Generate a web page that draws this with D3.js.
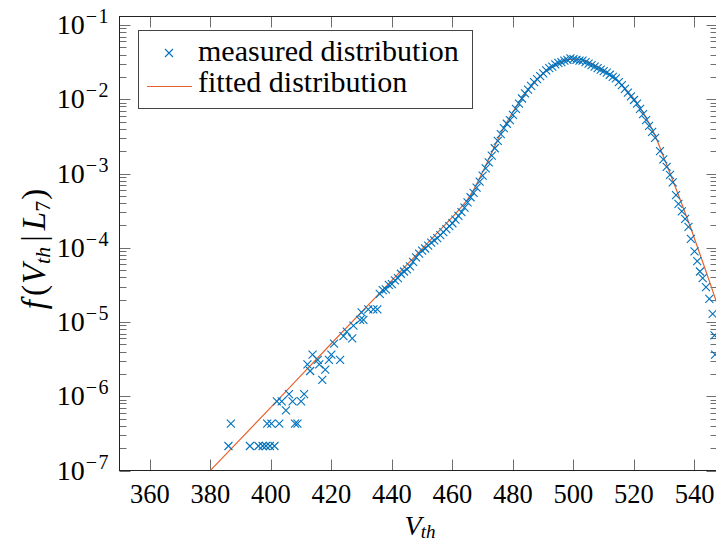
<!DOCTYPE html>
<html><head><meta charset="utf-8">
<script src="https://cdn.jsdelivr.net/npm/d3@7"></script>
<style>
body{margin:0;background:#fff;}
svg{display:block;}
text{font-family:"Liberation Serif","Times New Roman",serif;fill:#000;}
</style>
</head><body>
<svg id="chart" width="716" height="542"></svg>
<script>
// ---------- data ----------
const xTickValues = [360, 380, 400, 420, 440, 460, 480, 500, 520, 540];
const yTickExponents = [-7, -6, -5, -4, -3, -2, -1];
const legendLabels = ["measured distribution", "fitted distribution"];
const xAxisLabel = "V_th";

// measured distribution: V_th and log10 of f (read on the log axis)
const measuredX = [
  386.0, 386.8, 393.1, 395.9, 397.3, 398.4, 399.7, 401.2, 398.8, 400.2,
  402.8, 408.0, 408.8, 405.0, 402.0, 403.6, 407.2, 410.0, 406.0, 411.0,
  417.0, 413.0, 418.0, 412.1, 416.0, 422.9, 413.8, 415.5, 419.2, 420.0,
  420.9, 424.0, 426.9, 425.1, 427.3, 429.5, 430.6, 430.0, 432.2, 433.9,
  435.2,
  436, 437, 438, 439, 440, 441, 442, 443, 444, 445,
  446, 447, 448, 449, 450, 451, 452, 453, 454, 455,
  456, 457, 458, 459, 460, 461, 462, 463, 464, 465,
  466, 467, 468, 469, 470, 471, 472, 473, 474, 475,
  476, 477, 478, 479, 480, 481, 482, 483, 484, 485,
  486, 487, 488, 489, 490, 491, 492, 493, 494, 495,
  496, 497, 498, 499, 500, 501, 502, 503, 504, 505,
  506, 507, 508, 509, 510, 511, 512, 513, 514, 515,
  516, 517, 518, 519, 520, 521, 522, 523, 524, 525,
  526, 527,
  528.6, 529.7, 530.8, 531.9, 532.8, 533.9, 534.7, 535.8, 536.9, 538.0,
  538.8, 540.0, 540.9, 541.8, 542.7, 543.8, 544.9, 546.0, 546.6, 546.8
];
const measuredLog10 = [
  -6.67, -6.37, -6.67, -6.67, -6.67, -6.67, -6.67, -6.67, -6.37, -6.37,
  -6.37, -6.37, -6.37, -6.19, -6.07, -6.07, -6.07, -6.07, -5.97, -5.97,
  -5.78, -5.66, -5.64, -5.57, -5.57, -5.51, -5.44, -5.51, -5.51, -5.44,
  -5.29, -5.19, -5.22, -5.13, -5.05, -4.97, -4.97, -4.87, -4.83, -4.83,
  -4.83,
  -4.62, -4.57, -4.56, -4.50, -4.49, -4.44, -4.41, -4.35, -4.32, -4.29,
  -4.25, -4.19, -4.13, -4.08, -4.04, -4.01, -3.97, -3.93, -3.90, -3.87,
  -3.83, -3.79, -3.75, -3.71, -3.67, -3.62, -3.57, -3.52, -3.46, -3.39,
  -3.32, -3.26, -3.19, -3.11, -3.03, -2.93, -2.85, -2.76, -2.66, -2.56,
  -2.47, -2.39, -2.33, -2.28, -2.21, -2.13, -2.06, -1.99, -1.92, -1.87,
  -1.82, -1.77, -1.73, -1.69, -1.65, -1.61, -1.58, -1.56, -1.53, -1.51,
  -1.50, -1.48, -1.47, -1.45, -1.46, -1.47, -1.48, -1.48, -1.50, -1.52,
  -1.54, -1.56, -1.58, -1.60, -1.62, -1.64, -1.67, -1.70, -1.72, -1.77,
  -1.81, -1.86, -1.91, -1.96, -2.01, -2.06, -2.13, -2.20, -2.28, -2.36,
  -2.44, -2.52,
  -2.70, -2.81, -2.91, -3.02, -3.12, -3.29, -3.41, -3.51, -3.61, -3.72,
  -3.88, -4.05, -4.18, -4.32, -4.41, -4.53, -4.69, -4.89, -5.18, -5.44
];

// fitted distribution
const fittedX = [380, 400, 420, 440, 455, 463, 465, 467, 470, 473, 476, 479, 482, 485, 488, 491, 494, 497, 500, 503, 506, 509, 512, 515, 518, 521, 524, 527, 530, 533, 536, 539, 542, 545, 548];
const fittedLog10 = [-7.00, -6.15, -5.29, -4.44, -3.80, -3.45, -3.35, -3.22, -2.98, -2.72, -2.46, -2.24, -2.04, -1.88, -1.74, -1.62, -1.54, -1.48, -1.46, -1.47, -1.52, -1.59, -1.67, -1.77, -1.90, -2.05, -2.25, -2.49, -2.80, -3.11, -3.43, -3.76, -4.11, -4.46, -4.82];

// ---------- layout ----------
const colorMeasured = "#0072bd";
const colorFitted = "#e8612c";
const plot = {left: 119.5, right: 717.5, top: 16.5, bottom: 470.5};
const svg = d3.select("#chart");

const x = d3.scaleLinear().domain([350, 547.6]).range([plot.left, plot.right]);
const y = d3.scaleLog().domain([1e-7, Math.pow(10, -0.8855)]).range([plot.bottom, plot.top]);

const measured = measuredX.map((v, i) => ({x: v, y: Math.pow(10, measuredLog10[i])}));
const fitted = fittedX.map((v, i) => ({x: v, y: Math.pow(10, fittedLog10[i])}));

svg.append("defs").append("clipPath").attr("id", "clip")
  .append("rect").attr("x", plot.left).attr("y", plot.top)
  .attr("width", plot.right - plot.left).attr("height", plot.bottom - plot.top);

// ticks
const tickColor = "#6e6e6e";
const g = svg.append("g");
const majorLen = 11, minorLen = 7;
xTickValues.forEach(v => {
  const px = Math.round(x(v)) + 0.5;
  g.append("line").attr("x1", px).attr("x2", px).attr("y1", plot.bottom).attr("y2", plot.bottom - majorLen).attr("stroke", tickColor);
  g.append("line").attr("x1", px).attr("x2", px).attr("y1", plot.top).attr("y2", plot.top + majorLen).attr("stroke", tickColor);
});
const minorTicks = [];
yTickExponents.forEach(e => { for (let k = 2; k <= 9; k++) { const v = k * Math.pow(10, e); if (v < y.domain()[1]) minorTicks.push(v); } });
yTickExponents.forEach(e => {
  const py = Math.round(y(Math.pow(10, e))) + 0.5;
  g.append("line").attr("x1", plot.left).attr("x2", plot.left + majorLen).attr("y1", py).attr("y2", py).attr("stroke", tickColor);
  g.append("line").attr("x1", plot.right).attr("x2", plot.right - majorLen).attr("y1", py).attr("y2", py).attr("stroke", tickColor);
});
minorTicks.forEach(v => {
  const py = Math.round(y(v)) + 0.5;
  g.append("line").attr("x1", plot.left).attr("x2", plot.left + minorLen).attr("y1", py).attr("y2", py).attr("stroke", tickColor);
  g.append("line").attr("x1", plot.right).attr("x2", plot.right - minorLen).attr("y1", py).attr("y2", py).attr("stroke", tickColor);
});

// fitted line
svg.append("path").datum(fitted)
  .attr("clip-path", "url(#clip)")
  .attr("fill", "none").attr("stroke", colorFitted).attr("stroke-width", 1.2)
  .attr("d", d3.line().x(d => x(d.x)).y(d => y(d.y)).curve(d3.curveMonotoneX));

// measured crosses
const cs = 4;
const crossPath = (cx, cy) => `M${cx - cs},${cy - cs}L${cx + cs},${cy + cs}M${cx - cs},${cy + cs}L${cx + cs},${cy - cs}`;
svg.append("g").selectAll("path").data(measured).join("path")
  .attr("d", d => crossPath(x(d.x), y(d.y)))
  .attr("stroke", colorMeasured).attr("stroke-width", 1.1).attr("fill", "none");

// frame
svg.append("rect").attr("x", plot.left).attr("y", plot.top)
  .attr("width", plot.right - plot.left).attr("height", plot.bottom - plot.top)
  .attr("fill", "none").attr("stroke", "#222").attr("stroke-width", 1);

// axis tick labels
xTickValues.forEach(v => {
  svg.append("text").attr("x", x(v)).attr("y", 503).attr("text-anchor", "middle")
    .attr("font-size", 26.5).text(d3.format("d")(v));
});
yTickExponents.forEach(e => {
  const t = svg.append("text").attr("x", 110).attr("y", y(Math.pow(10, e)) + 9).attr("text-anchor", "end").attr("font-size", 28);
  t.append("tspan").text("10");
  t.append("tspan").attr("dx", 1).attr("dy", -11).attr("font-size", 20).attr("letter-spacing", 1.5).text("\u2212" + Math.abs(e));
});

// axis titles
const xl = svg.append("text").attr("x", 420).attr("y", 535).attr("text-anchor", "middle").attr("font-size", 28);
xl.append("tspan").attr("font-style", "italic").text(xAxisLabel.split("_")[0]);
xl.append("tspan").attr("font-style", "italic").attr("font-size", 19).attr("dy", 2.5).attr("dx", -1).text(xAxisLabel.split("_")[1]);

const yl = svg.append("text").attr("transform", "translate(45,249) rotate(-90)").attr("text-anchor", "middle")
  .attr("font-size", 33);
yl.append("tspan").attr("font-style", "italic").text("f");
yl.append("tspan").attr("dx", 4).text("(");
yl.append("tspan").attr("dx", 1).attr("font-style", "italic").text("V");
yl.append("tspan").attr("font-style", "italic").attr("font-size", 22).attr("dy", 5).text("th");
yl.append("tspan").attr("dx", 5).attr("dy", -5).text("|");
yl.append("tspan").attr("dx", 5).attr("font-style", "italic").text("L");
yl.append("tspan").attr("font-size", 22).attr("dy", 5).text("7");
yl.append("tspan").attr("dx", 1).attr("dy", -5).text(")");

// legend
const lg = svg.append("g");
lg.append("rect").attr("x", 138.5).attr("y", 30.5).attr("width", 334).attr("height", 78)
  .attr("fill", "#fff").attr("stroke", "#444").attr("stroke-width", 1);
lg.append("path").attr("d", crossPath(169, 53)).attr("stroke", colorMeasured).attr("stroke-width", 1.1);
lg.append("line").attr("x1", 147).attr("x2", 192).attr("y1", 86.5).attr("y2", 86.5).attr("stroke", colorFitted).attr("stroke-width", 1.2);
legendLabels.forEach((s, i) => {
  lg.append("text").attr("x", 198).attr("y", 61 + i * 31).attr("font-size", 30).text(s);
});
</script>
</body></html>
